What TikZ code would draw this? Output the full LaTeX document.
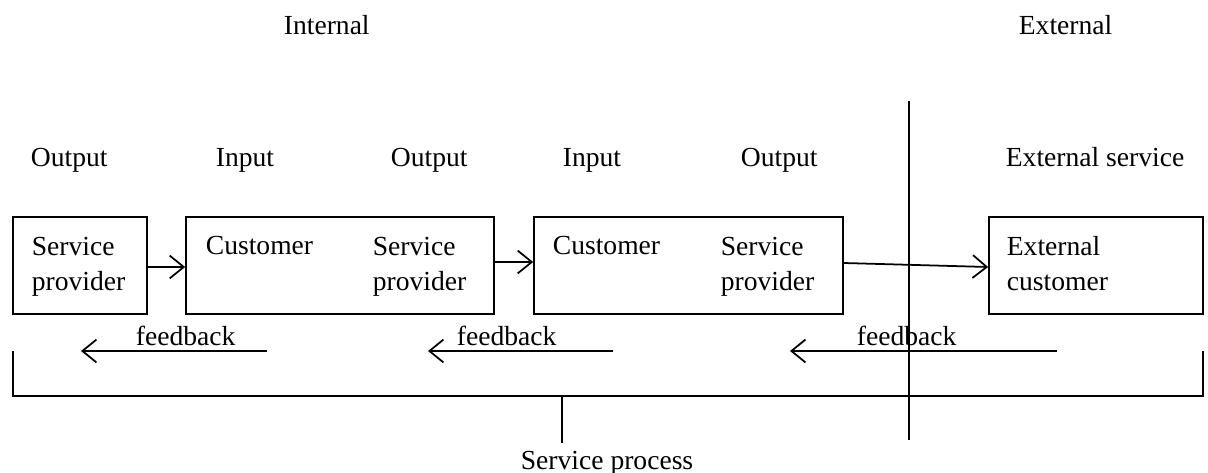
\documentclass[tikz,border=0pt]{standalone}
\usepackage{fontspec}
\setmainfont{Liberation Serif}
\usetikzlibrary{arrows.meta}

\begin{document}
\begin{tikzpicture}[x=0.02cm,y=-0.02cm,line width=1pt,
  >={Straight Barb[length=8pt,width=13pt]},
  every node/.style={font=\fontsize{15.7}{20.4}\selectfont,inner sep=0pt},
  unit/.style={draw,minimum height=1.94cm},
  txt/.style={anchor=base west,align=left}]
  \useasboundingbox (0,0) rectangle (1208,473);
  %HEADINGS
  \node[anchor=base west] (intl) at (283,35) {Internal};
  \node[anchor=base west] (extl) at (1018,35) {External};
  \draw (909,101) -- (909,440);
  %OUTPUT / INPUT ROW
  \node[anchor=base west] (outA) at (30,167) {Output};
  \node[anchor=base west] (inA) at (215,167) {Input};
  \node[anchor=base west] (outB) at (390,167) {Output};
  \node[anchor=base west] (inB) at (562,167) {Input};
  \node[anchor=base west] (outC) at (740,167) {Output};
  \node[anchor=base west] (extsv) at (1005,167) {External service};
  %BOXES
  \node[unit,minimum width=2.68cm] (boxA) at (80,265.5) {};
  \node[unit,minimum width=6.16cm] (boxB) at (340,265.5) {};
  \node[unit,minimum width=6.18cm] (boxC) at (688.5,265.5) {};
  \node[unit,minimum width=4.28cm] (boxD) at (1096,265.5) {};
  % base of a two-line node sits on its last line
  \node[txt] (spA) at (31,291) {Service\\provider};
  \node[txt] (cuB) at (205,255) {Customer};
  \node[txt] (spB) at (372,291) {Service\\provider};
  \node[txt] (cuC) at (552,255) {Customer};
  \node[txt] (spC) at (720,291) {Service\\provider};
  \node[txt] (excu) at (1006,291) {External\\customer};
  \draw[->] ([yshift=-0.03cm]boxA.east) -- ([yshift=-0.03cm]boxB.west);
  \draw[->] ([yshift=0.07cm]boxB.east) -- ([yshift=0.07cm]boxC.west);
  \draw[->] ([yshift=0.05cm]boxC.east) -- ([yshift=-0.03cm]boxD.west);
  %FEEDBACK
  \coordinate (fbAin) at (267,351);
  \coordinate (fbAout) at (81,351);
  \coordinate (fbBin) at (613,351);
  \coordinate (fbBout) at (428,351);
  \coordinate (fbCin) at (1057,351);
  \coordinate (fbCout) at (790,351);
  \draw[->] (fbAin) -- (fbAout);
  \draw[->] (fbBin) -- (fbBout);
  \draw[->] (fbCin) -- (fbCout);
  \node[anchor=base west] (fbA) at (135,345) {feedback};
  \node[anchor=base west] (fbB) at (456,345) {feedback};
  \node[anchor=base west] (fbC) at (856,345) {feedback};
  %SERVICE PROCESS
  \coordinate (brL) at (13,351);
  \coordinate (brR) at (1203,351);
  \draw (brL) -- (13,396) -- (1203,396) -- (brR);
  \node[anchor=base west] (sproc) at (520,469) {Service process};
  \draw (562,396) -- (562,443);
\end{tikzpicture}
\end{document}
